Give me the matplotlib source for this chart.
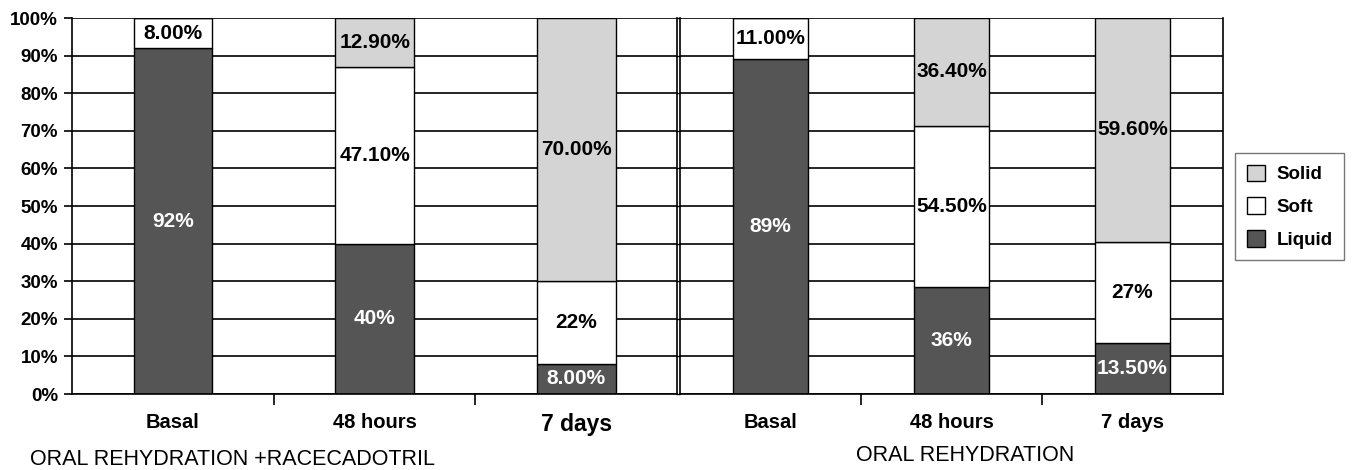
import matplotlib
matplotlib.use('Agg')
import matplotlib.pyplot as plt
import numpy as np
from matplotlib.patches import Patch

plt.rcParams['font.family'] = ['Liberation Sans', 'DejaVu Sans']

categories = ['Basal', '48 hours', '7 days']

# oral rehydration + racecadotril
rac_liquid = [92, 40, 8]
rac_soft = [8, 47.1, 22]
rac_solid = [0, 12.9, 70]
rac_liquid_lbl = ['92%', '40%', '8.00%']
rac_soft_lbl = ['8.00%', '47.10%', '22%']
rac_solid_lbl = ['', '12.90%', '70.00%']

# oral rehydration only
orl_liquid = [89, 36, 13.5]
orl_soft = [11, 54.5, 27]
orl_solid = [0, 36.4, 59.6]
orl_liquid_lbl = ['89%', '36%', '13.50%']
orl_soft_lbl = ['11.00%', '54.50%', '27%']
orl_solid_lbl = ['', '36.40%', '59.60%']

groups = ['ORAL REHYDRATION +RACECADOTRIL', 'ORAL REHYDRATION']

C_LIQ = '#555555'
C_SOFT = '#ffffff'
C_SOLID = '#d4d4d4'


def draw_panel(ax, liquid, soft, solid, lbls, bar_w, group, gx, left_labels):
    x = np.arange(len(categories))
    liquid = np.array(liquid, float)
    soft = np.array(soft, float)
    solid = np.array(solid, float)
    tot = liquid + soft + solid
    liq_p = liquid / tot * 100
    soft_p = soft / tot * 100
    solid_p = solid / tot * 100

    ax.set_axisbelow(True)
    ax.yaxis.grid(True, color='black', lw=1.2)
    ax.bar(x, liq_p, bar_w, color=C_LIQ, edgecolor='black', lw=1)
    ax.bar(x, soft_p, bar_w, bottom=liq_p, color=C_SOFT, edgecolor='black', lw=1)
    ax.bar(x, solid_p, bar_w, bottom=liq_p + soft_p, color=C_SOLID, edgecolor='black', lw=1)

    for i in range(len(x)):
        segs = [(liq_p[i], 0, lbls[0][i], 'white'),
                (soft_p[i], liq_p[i], lbls[1][i], 'black'),
                (solid_p[i], liq_p[i] + soft_p[i], lbls[2][i], 'black')]
        for h, b, t, c in segs:
            if t:
                ax.text(x[i], b + h / 2, t, ha='center', va='center', color=c,
                        fontsize=15, fontweight='bold')

    ax.set_xlim(-0.5, len(x) - 0.5)
    ax.set_ylim(0, 100)
    ax.set_yticks(np.arange(0, 101, 10))
    ax.set_xticks(x)
    ax.set_xticklabels(categories, fontsize=14.5, fontweight='bold')
    ax.set_xticks(np.arange(0.5, len(x) - 1, 1), minor=True)
    ax.tick_params(axis='x', which='major', length=0, pad=14)
    ax.tick_params(axis='x', which='minor', length=8, width=1.2, direction='out')
    if left_labels:
        ax.set_yticklabels(['%d%%' % v for v in range(0, 101, 10)], fontsize=13.5, fontweight='bold')
        ax.tick_params(axis='y', length=6, width=1.2, direction='out', pad=4)
    else:
        ax.set_yticklabels([])
        ax.tick_params(axis='y', length=3, width=1, direction='out')
    for s in ['left', 'right', 'bottom']:
        ax.spines[s].set_linewidth(1.2)
    ax.spines['top'].set_visible(False)
    ax.set_xlabel(group, fontsize=15.5, labelpad=9, x=gx)


fig = plt.figure(figsize=(13.52, 4.7), dpi=100)
ax1 = fig.add_axes([0.0533, 0.1617, 0.4475, 0.8])
ax2 = fig.add_axes([0.5030, 0.1617, 0.4016, 0.8])

draw_panel(ax1, rac_liquid, rac_soft, rac_solid,
           [rac_liquid_lbl, rac_soft_lbl, rac_solid_lbl], 0.39, groups[0], 0.265, True)
draw_panel(ax2, orl_liquid, orl_soft, orl_solid,
           [orl_liquid_lbl, orl_soft_lbl, orl_solid_lbl], 0.41, groups[1], 0.525, False)
ax1.get_xticklabels()[2].set_fontsize(16.5)

handles = [Patch(facecolor=C_SOLID, edgecolor='black', label='Solid'),
           Patch(facecolor=C_SOFT, edgecolor='black', label='Soft'),
           Patch(facecolor=C_LIQ, edgecolor='black', label='Liquid')]
fig.legend(handles=handles, loc='center', bbox_to_anchor=(0.954, 0.56),
           fancybox=False, edgecolor='#555555', prop={'weight': 'bold', 'size': 13.5},
           handlelength=1.0, handleheight=1.0, labelspacing=0.75, borderpad=0.6,
           handletextpad=0.6)

fig.savefig('out.png', dpi=100)
